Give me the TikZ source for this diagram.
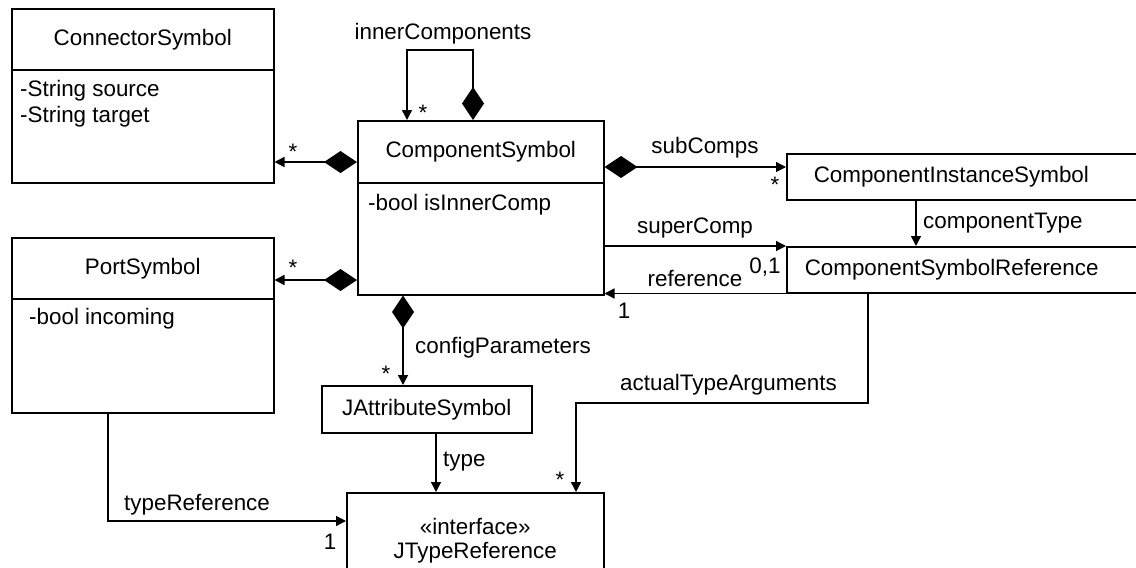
\documentclass[tikz,border=0pt]{standalone}
\usepackage{fontspec}
\setmainfont{Liberation Sans}
\usetikzlibrary{arrows.meta}
\tikzset{
  classbox/.style={draw, line width=1.5pt, inner sep=0pt, anchor=north west},
  attrtext/.style={anchor=west, inner sep=0pt},
  lbl/.style={inner sep=0pt},
  assoc/.style={line width=1.4pt, -{Triangle[length=10pt,width=10pt]}},
  compose/.style={line width=1.4pt, {Diamond[length=33pt,width=22pt]}-{Triangle[length=10pt,width=10pt]}},
}
\begin{document}
\begin{tikzpicture}[x=1pt, y=-1pt, font=\fontsize{22.4}{24}\selectfont]
    \useasboundingbox (0,0) rectangle (1136,568);
    \clip (0,0) rectangle (1136,568);
    % Classes with attributes
    \node[classbox, minimum width=262pt, minimum height=61pt] (connh) at (11,8) {ConnectorSymbol};
    \node[classbox, minimum width=262pt, minimum height=113pt] (connb) at (11,69) {};
    \node[attrtext] (connsrc) at (20,91) {-String source};
    \node[attrtext] (conntgt) at (20,117) {-String target};
    \node[classbox, minimum width=246pt, minimum height=62pt] (csh) at (357,120) {ComponentSymbol};
    \node[classbox, minimum width=246pt, minimum height=112pt] (csb) at (357,182) {};
    \node[attrtext] (csattr) at (368,205) {-bool isInnerComp};
    \node[classbox, minimum width=262pt, minimum height=61pt] (porth) at (11,237) {PortSymbol};
    \node[classbox, minimum width=262pt, minimum height=114pt] (portb) at (11,298) {};
    \node[attrtext] (portattr) at (29,319) {-bool incoming};
    % Plain classes
    \node[classbox, minimum height=46pt, inner xsep=27pt, text width=340pt, align=left] (cis) at (786,153) {ComponentInstanceSymbol};
    \node[classbox, minimum height=46pt, inner xsep=18pt, text width=340pt, align=left] (csr) at (786,246) {ComponentSymbolReference};
    \node[classbox, minimum width=210pt, minimum height=47pt] (jas) at (321,385) {JAttributeSymbol};
    \node[classbox, minimum width=257pt, minimum height=96pt, align=center] (jtr) at (346,492) {«interface»\\JTypeReference};
    % Helper coordinates
    \coordinate (loopL) at (407,50);
    \coordinate (loopR) at (473,50);
    \coordinate (connY) at (0,162);
    \coordinate (portY) at (0,280);
    \coordinate (subY) at (0,167);
    \coordinate (typeX) at (916,0);
    \coordinate (cfgX) at (403,0);
    \coordinate (jtypeX) at (436,0);
    \coordinate (argR) at (868,403);
    \coordinate (argL) at (576,403);
    \coordinate (trefB) at (108,521);
    % Associations
    \draw[compose] (loopR |- csh.north) -- (loopR) -- (loopL) -- (loopL |- csh.north);
    \draw[compose] (csh.west |- connY) -- (connh.east |- connY);
    \draw[compose] (csb.west |- portY) -- (porth.east |- portY);
    \draw[compose] (csh.east |- subY) -- (cis.west |- subY);
    \draw[assoc] (csr.north west -| csb.east) -- (csr.north west);
    \draw[assoc] (csr.south west) -- (csr.south west -| csb.east);
    \draw[assoc] (cis.south -| typeX) -- (csr.north -| typeX);
    \draw[compose] (csb.south -| cfgX) -- (jas.north -| cfgX);
    \draw[assoc] (jas.south -| jtypeX) -- (jtr.north -| jtypeX);
    \draw[assoc] (csr.south -| argR) -- (argR) -- (argL) -- (jtr.north -| argL);
    \draw[assoc] (portb.south -| trefB) -- (trefB) -- (jtr.west |- trefB);
    % Role names and multiplicities
    \node[lbl] (innerlbl) at (443,34) {innerComponents};
    \node[lbl] (innermult) at (423,113) {*};
    \node[lbl] (connmult) at (293,152) {*};
    \node[lbl] (portmult) at (293,268) {*};
    \node[lbl] (sublbl) at (705,148) {subComps};
    \node[lbl] (submult) at (775,185) {*};
    \node[lbl, anchor=west] (ctlbl) at (923,223) {componentType};
    \node[lbl] (superlbl) at (695,228) {superComp};
    \node[lbl] (supermult) at (765,267) {0,1};
    \node[lbl] (reflbl) at (695,278) {reference};
    \node[lbl] (refmult) at (624,311) {1};
    \node[lbl, anchor=west] (cfglbl) at (415,348) {configParameters};
    \node[lbl] (cfgmult) at (386,374) {*};
    \node[lbl, anchor=west] (typelbl) at (443,462) {type};
    \node[lbl] (argmult) at (560,480) {*};
    \node[lbl, anchor=west] (arglbl) at (620,385) {actualTypeArguments};
    \node[lbl, anchor=west] (treflbl) at (124,505) {typeReference};
    \node[lbl] (trefmult) at (330,542) {1};
\end{tikzpicture}
\end{document}
